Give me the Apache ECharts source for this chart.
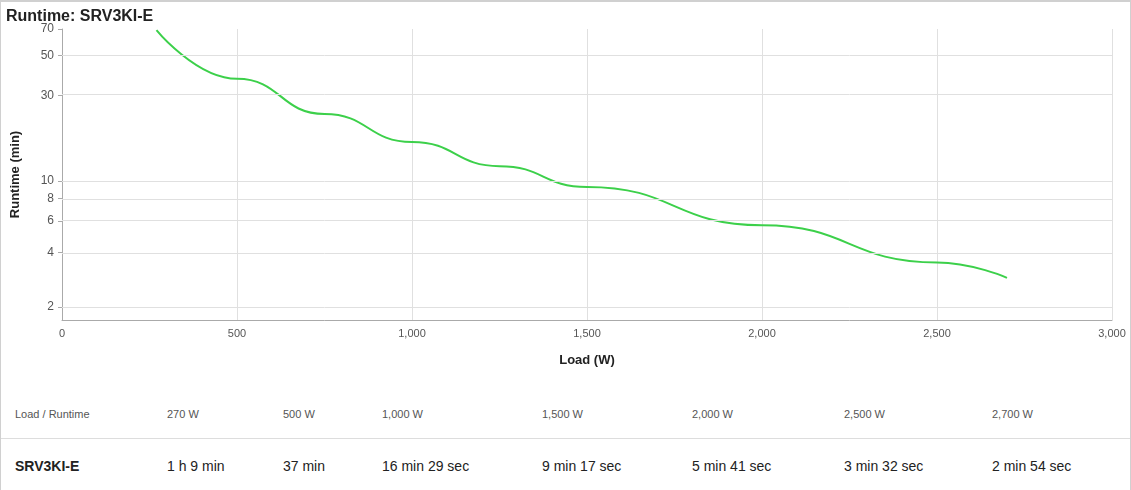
<!DOCTYPE html>
<html><head><meta charset="utf-8">
<script src="https://cdn.jsdelivr.net/npm/echarts@6/dist/echarts.min.js"></script>
<style>
body{margin:0;font-family:Arial,"Liberation Sans",sans-serif;}
#wrap{position:relative;width:1129px;height:489px;border:1px solid #d0d0d0;border-top:2px solid #d0d0d0;overflow:hidden;background:#fff}
#main{position:absolute;left:0;top:0;width:1129px;height:380px}
.c{position:absolute;white-space:nowrap}
.h{top:406px;font-size:11px;color:#555}
.r{top:456px;font-size:14px;color:#222}
#sep{position:absolute;left:0;right:0;top:436px;border-top:1px solid #ddd}
</style></head><body>
<div id="wrap"><div id="main"></div><div id="sep"></div><div id="tbl"></div></div>
<script>
var loads = [270, 500, 750, 1000, 1250, 1500, 2000, 2500, 2700];
var runtimes = [69, 37, 23.6, 16.48, 12.1, 9.28, 5.68, 3.53, 2.9];
var yTicks = [2, 4, 6, 8, 10, 30, 50, 70];
var tblHead = ['Load / Runtime', '270 W', '500 W', '1,000 W', '1,500 W', '2,000 W', '2,500 W', '2,700 W'];
var tblRow = ['SRV3KI-E', '1 h 9 min', '37 min', '16 min 29 sec', '9 min 17 sec', '5 min 41 sec', '3 min 32 sec', '2 min 54 sec'];
var colX = [14, 166, 282, 381, 541, 691, 843, 991];

var tbl = document.getElementById('tbl');
tblHead.forEach(function (t, i) {
    tbl.innerHTML += '<div class="c h" style="left:' + colX[i] + 'px">' + t + '</div>';
    tbl.innerHTML += '<div class="c r" style="left:' + colX[i] + 'px;' + (i == 0 ? 'font-weight:bold;' : '') + '">' + tblRow[i] + '</div>';
});

var myChart = echarts.init(document.getElementById('main'));
var lg = function (v) { return Math.log10(v); };
var option = {
    animation: false,
    title: {
        text: 'Runtime: SRV3KI-E',
        left: 0, top: 2,
        textStyle: { fontSize: 16, fontWeight: 'bold', color: '#222' }
    },
    grid: { left: 48, right: 18, top: 27, bottom: 62 },
    xAxis: {
        type: 'value', min: 0, max: 3000, interval: 500,
        name: 'Load (W)', nameLocation: 'middle', nameGap: 34,
        nameTextStyle: { fontSize: 13, fontWeight: 'bold', color: '#222' },
        axisLine: { lineStyle: { color: '#aaa' } },
        axisTick: { show: false },
        axisLabel: { color: '#555', fontSize: 11, formatter: function (v) { return v.toLocaleString('en-US'); } },
        splitLine: { lineStyle: { color: '#e0e0e0' } }
    },
    yAxis: {
        type: 'value', min: lg(1.69), max: lg(70),
        name: 'Runtime (min)', nameLocation: 'middle', nameGap: 40,
        nameTextStyle: { fontSize: 13, fontWeight: 'bold', color: '#222' },
        axisLine: { show: true, lineStyle: { color: '#aaa' } },
        axisTick: { show: true, customValues: yTicks.map(lg), length: 4, lineStyle: { color: '#aaa' } },
        axisLabel: {
            color: '#555', fontSize: 12, customValues: yTicks.map(lg),
            formatter: function (v) { return Math.round(Math.pow(10, v)); }
        },
        splitLine: { show: false }
    },
    series: [{
        type: 'line', smooth: 0.5, smoothMonotone: 'x', symbol: 'none',
        lineStyle: { color: '#3cd04a', width: 2 },
        data: loads.map(function (x, i) { return [x, lg(runtimes[i])]; }),
        markLine: {
            silent: true, symbol: 'none', label: { show: false },
            lineStyle: { color: '#e0e0e0', type: 'solid', width: 1 },
            data: yTicks.map(function (t) { return { yAxis: lg(t) }; })
        },
        z: 3
    }]
};
myChart.setOption(option);
</script>
</body></html>
